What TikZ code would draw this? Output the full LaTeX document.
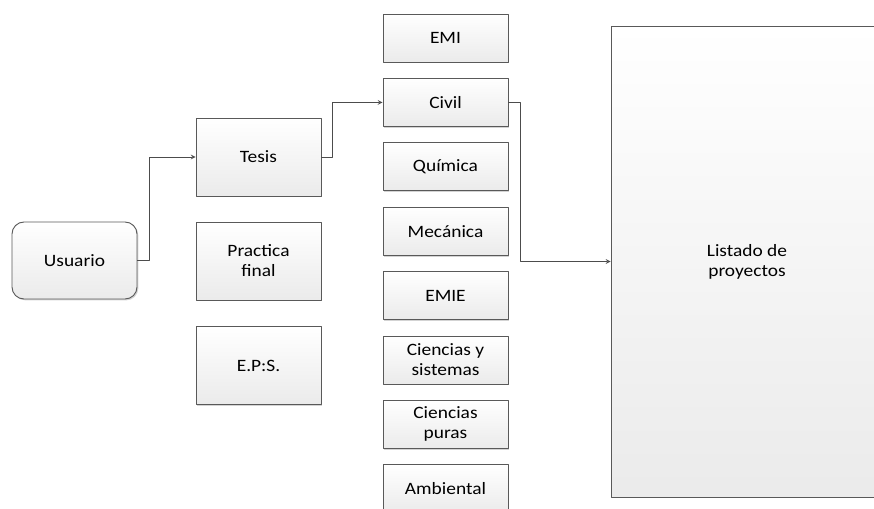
\documentclass[tikz,border=0pt]{standalone}
\usepackage{fontspec}
\setmainfont{Carlito}[FakeStretch=1.12]
\usetikzlibrary{shadows}
\begin{document}
\begin{tikzpicture}[x=0.75pt,y=-0.75pt,>=stealth,line join=round,
		font=\fontsize{13}{15}\selectfont,
		caja/.style={draw=black!65,line width=0.7pt,top color=white,bottom color=black!8,
			align=center,minimum width=125*0.75pt,
			drop shadow={shadow xshift=1pt,shadow yshift=-1pt,opacity=0.35}},
		flecha/.style={->,draw=black!70,line width=0.6pt}]
	\useasboundingbox (0,0) rectangle (874,508);
	\clip (0,0) rectangle (874,508);
	% usuario y tipos
	\node[caja,rounded corners=9pt,minimum height=77*0.75pt] (usuario) at (74.5,260.5) {Usuario};
	\node[caja,minimum height=78*0.75pt] (tesis) at (258.5,157) {Tesis};
	\node[caja,minimum height=78*0.75pt] (practica) at (258.5,261) {Practica\\final};
	\node[caja,minimum height=78*0.75pt] (eps) at (258.5,365.5) {E.P:S.};
	% escuelas
	\foreach \nombre/\texto [count=\i from 0] in {emi/EMI,civil/Civil,quimica/Química,
			mecanica/Mecánica,emie/EMIE,cys/{Ciencias y\\sistemas},cpuras/{Ciencias\\puras},
			ambiental/Ambiental}
		\node[caja,minimum height=48*0.75pt] (\nombre) at (445.5,{38+64.4*\i}) {\texto};
	\node[caja,minimum width=272*0.75pt,minimum height=471*0.75pt] (listado) at (747,261.5) {Listado de\\proyectos};
	% flechas
	\draw[flecha] (usuario.east) -- ++(12,0) |- (tesis.west);
	\draw[flecha] (tesis.east) -- ++(11,0) |- (civil.west);
	\draw[flecha] (civil.east) -- ++(12,0) |- (listado.west);
\end{tikzpicture}
\end{document}
